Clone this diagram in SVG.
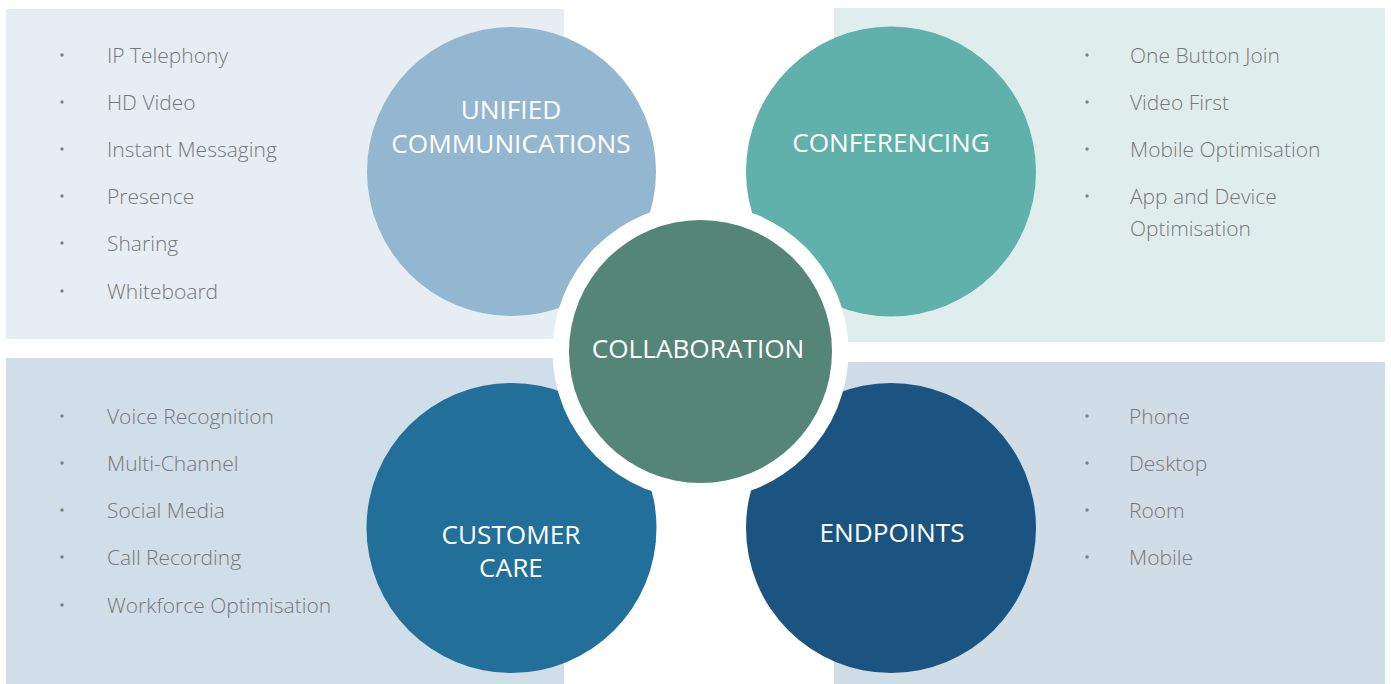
<svg xmlns="http://www.w3.org/2000/svg" width="1391" height="684" viewBox="0 0 1391 684">
<style>
.item{font-family:"Open Sans","Liberation Sans",sans-serif;font-size:21px;font-weight:300;fill:#787878}
.lbl{font-family:"Open Sans","Liberation Sans",sans-serif;font-size:26.2px;font-weight:400;fill:#ffffff;text-anchor:middle}
.dot{fill:#808080}
</style>
<rect width="1391" height="684" fill="#ffffff"/>
<g id="panels">
<rect x="6" y="9" width="558" height="330" fill="#e6edf3"/>
<rect x="834" y="8" width="551" height="334" fill="#dfeeed"/>
<rect x="6" y="358" width="558" height="326" fill="#cfdee8"/>
<rect x="834" y="362" width="551" height="322" fill="#d0dce6"/>
</g>
<g id="connectors"></g>
<g id="unified-communications">
<circle cx="511.5" cy="171.5" r="144.5" fill="#93b7d0"/>
<text class="lbl" x="511" y="119">UNIFIED</text>
<text class="lbl" x="511" y="153">COMMUNICATIONS</text>
</g>
<g id="conferencing">
<circle cx="891" cy="171.5" r="145" fill="#60b0ab"/>
<text class="lbl" x="891" y="152">CONFERENCING</text>
</g>
<g id="customer-care">
<circle cx="511.5" cy="528" r="145" fill="#226f9a"/>
<text class="lbl" x="511" y="544">CUSTOMER</text>
<text class="lbl" x="511" y="577">CARE</text>
</g>
<g id="endpoints">
<circle cx="891" cy="528" r="145" fill="#1b5480"/>
<text class="lbl" x="892" y="542">ENDPOINTS</text>
</g>
<g id="collaboration">
<circle cx="700.5" cy="351.5" r="148" fill="#ffffff"/>
<circle cx="700.5" cy="351.5" r="131.5" fill="#548577"/>
<text class="lbl" x="698" y="358">COLLABORATION</text>
</g>
<g id="list-unified">
<circle class="dot" cx="62" cy="55" r="1.7"/><text class="item" x="107" y="63">IP Telephony</text>
<circle class="dot" cx="62" cy="102" r="1.7"/><text class="item" x="107" y="110">HD Video</text>
<circle class="dot" cx="62" cy="149" r="1.7"/><text class="item" x="107" y="157">Instant Messaging</text>
<circle class="dot" cx="62" cy="196" r="1.7"/><text class="item" x="107" y="204">Presence</text>
<circle class="dot" cx="62" cy="243" r="1.7"/><text class="item" x="107" y="251">Sharing</text>
<circle class="dot" cx="62" cy="291" r="1.7"/><text class="item" x="107" y="299">Whiteboard</text>
</g>
<g id="list-conferencing">
<circle class="dot" cx="1087" cy="55" r="1.7"/><text class="item" x="1130" y="63">One Button Join</text>
<circle class="dot" cx="1087" cy="102" r="1.7"/><text class="item" x="1130" y="110">Video First</text>
<circle class="dot" cx="1087" cy="149" r="1.7"/><text class="item" x="1130" y="157">Mobile Optimisation</text>
<circle class="dot" cx="1087" cy="196" r="1.7"/><text class="item" x="1130" y="204">App and Device</text>
<text class="item" x="1130" y="236">Optimisation</text>
</g>
<g id="list-customer-care">
<circle class="dot" cx="62" cy="416" r="1.7"/><text class="item" x="107" y="424">Voice Recognition</text>
<circle class="dot" cx="62" cy="463" r="1.7"/><text class="item" x="107" y="471">Multi-Channel</text>
<circle class="dot" cx="62" cy="510" r="1.7"/><text class="item" x="107" y="518">Social Media</text>
<circle class="dot" cx="62" cy="557" r="1.7"/><text class="item" x="107" y="565">Call Recording</text>
<circle class="dot" cx="62" cy="605" r="1.7"/><text class="item" x="107" y="613">Workforce Optimisation</text>
</g>
<g id="list-endpoints">
<circle class="dot" cx="1087" cy="416" r="1.7"/><text class="item" x="1129" y="424">Phone</text>
<circle class="dot" cx="1087" cy="463" r="1.7"/><text class="item" x="1129" y="471">Desktop</text>
<circle class="dot" cx="1087" cy="510" r="1.7"/><text class="item" x="1129" y="518">Room</text>
<circle class="dot" cx="1087" cy="557" r="1.7"/><text class="item" x="1129" y="565">Mobile</text>
</g>
</svg>
